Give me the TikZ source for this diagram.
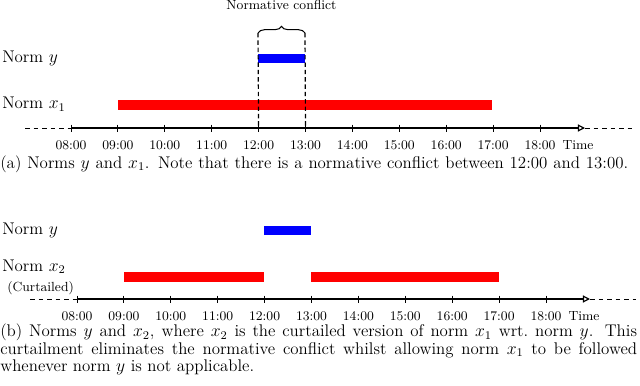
\documentclass[tikz,border=0pt]{standalone}
\usetikzlibrary{arrows.meta,decorations.pathreplacing,calc}
\newcommand{\capfont}{\fontsize{11.5}{11.8}\selectfont}
\begin{document}
\begin{tikzpicture}[x=0.68pt,y=-0.68pt,
  normlbl/.style={anchor=base west, inner sep=0, font=\fontsize{11.5}{13}\selectfont},
  smalllbl/.style={font=\small, anchor=base, inner sep=0},
  capt/.style={inner sep=0, font=\capfont},
  axisline/.style={line width=0.9pt, -{Triangle[open,length=4.8pt,width=4.8pt,line width=0.8pt]}},
  tickmark/.style={line width=0.6pt},
  extline/.style={line width=0.5pt, dash pattern=on 3.2pt off 2.6pt},
  vdash/.style={line width=0.8pt, dash pattern=on 3pt off 2pt},
  ybar/.style={fill=blue},
  xbar/.style={fill=red}]
\useasboundingbox (0,0) rectangle (640,385);

% ---------- Panel (a) ----------
\coordinate (aL) at (25,128);
\coordinate (a0) at (71,128);
\coordinate (aE) at (585,128);
\coordinate (aR) at (632,128);
\draw[extline] (aL) -- (a0);
\draw[axisline] (a0) -- (aE);
\draw[extline] (aE) -- (aR);
\foreach \h [count=\i from 0] in {08,09,10,11,12,13,14,15,16,17,18}{
  \coordinate (at\i) at ({71+46.9*\i},128);
  \draw[tickmark] ($(at\i)+(0,-3.5)$) -- ($(at\i)+(0,3.5)$);
  \node[smalllbl] (atl\i) at ({71+46.9*\i},149) {\h:00};
}
\node[smalllbl] (atime) at (578,149) {Time};

\fill[ybar] (258,54) rectangle (305,63);
\fill[xbar] (118,100) rectangle (492,110);

\node[normlbl] (ay) at (2,62) {Norm $y$};
\node[normlbl] (ax) at (2,108.5) {Norm $x_1$};

\coordinate (br1) at (258,33);
\coordinate (br2) at (305,33);
\draw[vdash] (br1) -- (at4);
\draw[vdash] (br2) -- (at5);
\draw[line width=0.7pt, decorate, decoration={brace, amplitude=4.5pt}] (br1) -- (br2);
\node[smalllbl] (conf) at (281.5,9.5) {Normative conflict};

\node[capt, anchor=base west] (capa) at (0,168)
  {\makebox[427pt][s]{(a) Norms $y$ and $x_1$. Note that there is a normative conflict between 12:00 and 13:00.}};

% ---------- Panel (b) ----------
\coordinate (bL) at (30,299);
\coordinate (b0) at (77,299);
\coordinate (bE) at (590,299);
\coordinate (bR) at (636,299);
\draw[extline] (bL) -- (b0);
\draw[axisline] (b0) -- (bE);
\draw[extline] (bE) -- (bR);
\foreach \h [count=\i from 0] in {08,09,10,11,12,13,14,15,16,17,18}{
  \coordinate (bt\i) at ({77+46.9*\i},299);
  \draw[tickmark] ($(bt\i)+(0,-3.5)$) -- ($(bt\i)+(0,3.5)$);
  \node[smalllbl] (btl\i) at ({77+46.9*\i},320) {\h:00};
}
\node[smalllbl] (btime) at (584,320) {Time};

\fill[ybar] (264,226) rectangle (311,235);
\fill[xbar] (124,272) rectangle (264,282);
\fill[xbar] (311,272) rectangle (499,282);

\node[normlbl] (by) at (2,234.5) {Norm $y$};
\node[normlbl] (bx) at (2,271) {Norm $x_2$};
\node[normlbl, font=\small] (bcurt) at (7,291) {(Curtailed)};

\node[capt, anchor=north west, text width=433pt, align=justify] (capb) at (0,324)
  {(b) Norms $y$ and $x_2$, where $x_2$ is the curtailed version of norm $x_1$ wrt.\ norm $y$. This\linebreak curtailment eliminates the normative conflict whilst allowing norm $x_1$ to be followed\linebreak whenever norm $y$ is not applicable.};
\end{tikzpicture}
\end{document}
